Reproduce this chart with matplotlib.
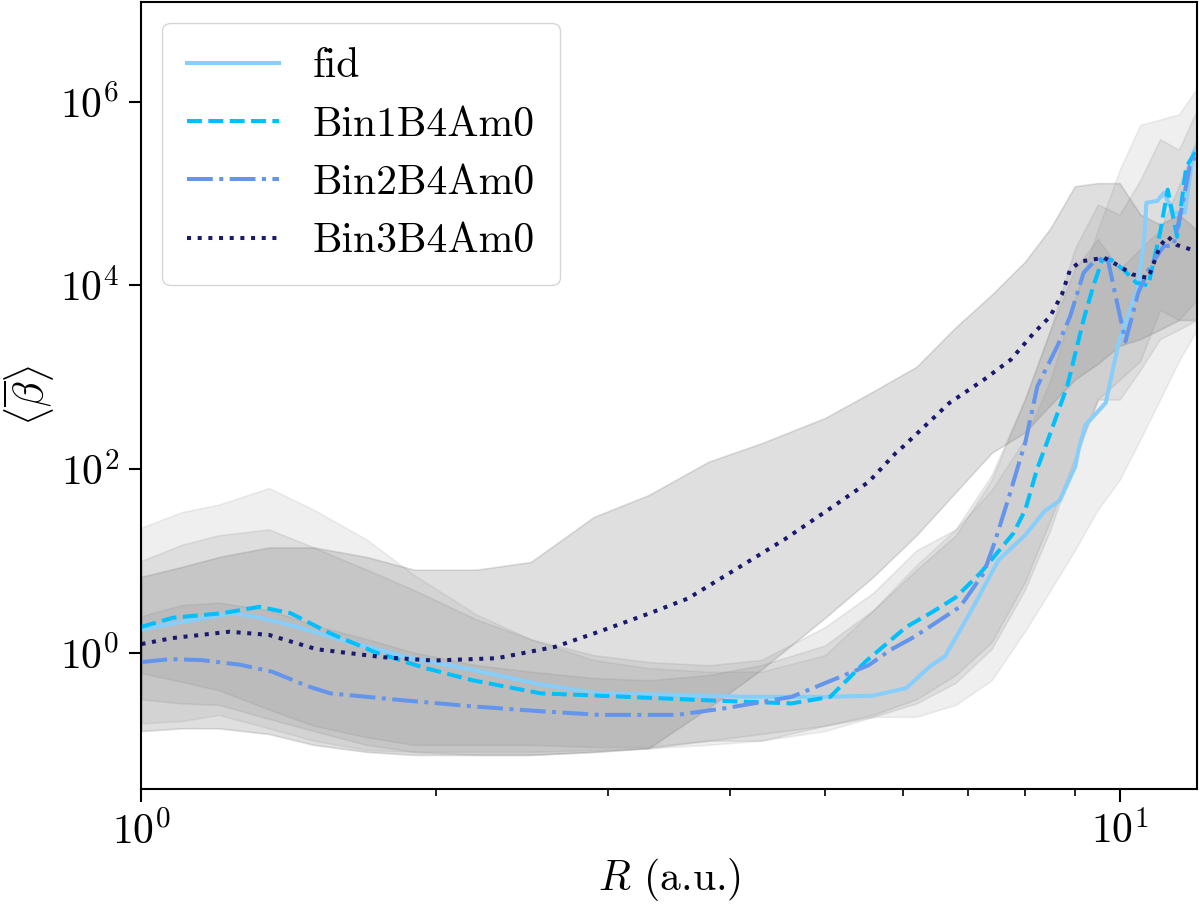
import numpy as np
import matplotlib
matplotlib.use("Agg")
import matplotlib.pyplot as plt
from matplotlib.ticker import FixedLocator, FuncFormatter, NullLocator

plt.rcParams['mathtext.fontset'] = 'cm'
plt.rcParams['font.family'] = ['cmr10', 'DejaVu Serif']
plt.rcParams['axes.unicode_minus'] = False

# ---------------- data ----------------
# mean curves
fid_R = [1.00, 1.08, 1.24, 1.31, 1.42, 1.60, 1.87, 2.18, 2.56, 2.94, 3.4, 4.2, 5.0, 5.6, 6.05, 6.4,
         6.63, 7.06, 7.52, 8.01, 8.38, 8.69, 9.01, 9.08, 9.23, 9.68, 9.86, 10.0, 10.43, 10.6,
         10.65, 10.93, 11.1, 11.35, 11.66, 11.9, 12.0]
fid_beta = [1.78, 2.09, 2.69, 2.45, 2.0, 1.38, 0.89, 0.65, 0.45, 0.36, 0.35, 0.33, 0.33, 0.34, 0.41, 0.71,
            0.91, 2.92, 10.2, 19.1, 34.7, 45.7, 107, 162, 302, 525, 1318, 2570, 8910, 31600,
            79400, 83200, 102000, 61700, 61700, 282000, 316000]

bin1_R = [1.0, 1.077, 1.21, 1.32, 1.42, 1.56, 1.73, 1.94, 2.18, 2.56, 2.94, 3.86, 4.62, 5.06, 5.5,
          6.05, 6.41, 6.8, 7.21, 7.79, 8.01, 8.23, 8.43, 8.84, 9.19, 9.4, 9.6, 9.8, 10.1, 10.4,
          10.7, 11.0, 11.2, 11.45, 11.7, 11.95]
bin1_beta = [1.91, 2.4, 2.69, 3.16, 2.69, 1.62, 1.02, 0.69, 0.50, 0.36, 0.34, 0.30, 0.28, 0.33, 0.8,
             1.9, 2.7, 4.0, 7.4, 20, 36, 98, 195, 794, 4270, 9770, 19000, 19000, 14800, 10700,
             10000, 37200, 110000, 33900, 195000, 282000]

bin2_R = [1.0, 1.07, 1.15, 1.26, 1.36, 1.48, 1.56, 1.87, 2.18, 2.56, 2.94, 3.53, 3.97, 4.62, 5.54,
          5.83, 6.17, 6.87, 7.26, 7.45, 7.73, 7.93, 8.01, 8.24, 8.64, 8.9, 9.19, 9.4, 9.71, 9.86,
          10.14, 10.45, 10.75, 11.1, 11.35, 11.55, 11.8, 11.95]
bin2_beta = [0.79, 0.85, 0.83, 0.74, 0.62, 0.43, 0.36, 0.30, 0.26, 0.23, 0.21, 0.21, 0.25, 0.33, 0.73,
             1.07, 1.49, 3.16, 7.3, 15.7, 55, 138, 195, 794, 2190, 4570, 13800, 17800, 20900, 9770,
             2450, 8320, 16200, 26900, 26900, 61700, 200000, 251000]

bin3_R = [1.0, 1.075, 1.23, 1.35, 1.51, 1.77, 1.99, 2.31, 2.65, 2.94, 3.31, 3.62, 4.04, 4.54, 5.06,
          5.54, 5.9, 6.01, 6.7, 7.26, 7.74, 8.17, 8.49, 8.73, 8.9, 9.12, 9.64, 10.0, 10.3, 10.7,
          11.0, 11.2, 11.45, 12.0]
bin3_beta = [1.24, 1.44, 1.69, 1.56, 1.09, 0.89, 0.82, 0.87, 1.16, 1.70, 2.69, 3.89, 7.94, 17.0, 37.2,
             72.4, 148, 176, 525, 933, 1550, 3020, 4570, 7940, 14800, 18200, 20000, 16200, 13200, 12000,
             26900, 33900, 27500, 23400]

# spread (shaded) envelopes on a common radius grid
band_R = [1.0, 1.1, 1.2, 1.35, 1.5, 1.7, 1.9, 2.2, 2.5, 2.9, 3.3, 3.8, 4.3, 5.0, 5.6, 6.2, 6.8,
          7.4, 8.0, 8.5, 9.0, 9.5, 10.0, 10.5, 11.0, 11.5, 12.0]
fid_lo = [0.17, 0.18, 0.21, 0.15, 0.11, 0.087, 0.083, 0.083, 0.083, 0.087, 0.091, 0.099, 0.11, 0.14,
          0.20, 0.20, 0.27, 0.50, 1.7, 4.8, 13, 36, 76, 210, 570, 1500, 3300]
fid_hi = [23, 34, 41, 62, 36, 17, 7.0, 2.6, 1.4, 0.83, 0.68, 0.62, 0.62, 0.94, 2.9, 9.0, 22, 59,
          210, 940, 7000, 40000, 180000, 560000, 640000, 730000, 1400000]
bin1_lo = [0.31, 0.28, 0.27, 0.19, 0.14, 0.099, 0.083, 0.077, 0.077, 0.083, 0.091, 0.11, 0.13, 0.16,
           0.21, 0.31, 0.57, 1.3, 5.8, 28, 130, 570, 940, 1500, 5400, 4200, 7000]
bin1_hi = [10, 15, 19, 22, 14, 8.0, 4.8, 2.3, 1.4, 0.94, 0.79, 0.73, 0.83, 1.9, 4.5, 13, 22, 86,
           570, 3300, 25000, 76000, 59000, 140000, 390000, 300000, 820000]
bin2_lo = [0.60, 0.48, 0.39, 0.24, 0.16, 0.12, 0.099, 0.099, 0.099, 0.094, 0.094, 0.11, 0.11, 0.16,
           0.20, 0.28, 0.47, 1.1, 4.8, 22, 130, 570, 570, 1200, 2600, 3300, 4200]
bin2_hi = [2.5, 3.3, 3.5, 2.9, 2.0, 1.4, 1.0, 0.73, 0.62, 0.53, 0.50, 0.57, 0.73, 1.2, 2.9, 8.0, 19,
           76, 570, 3300, 15000, 32000, 15000, 25000, 40000, 120000, 400000]
bin3_lo = [0.14, 0.15, 0.15, 0.13, 0.099, 0.083, 0.077, 0.077, 0.077, 0.083, 0.091, 0.25, 0.65, 2.4,
           6.7, 19, 56, 150, 250, 500, 940, 1400, 2200, 2600, 3300, 4200, 4200]
bin3_hi = [6.7, 8.6, 11, 14, 14, 11, 8.0, 8.0, 9.7, 30, 52, 120, 190, 360, 700, 1300, 3500, 7900,
           18000, 42000, 120000, 130000, 130000, 59000, 46000, 59000, 40000]

labels = ['fid', 'Bin1B4Am0', 'Bin2B4Am0', 'Bin3B4Am0']
colors = ['#87CEFA', '#00BFFF', '#6495ED', '#191970']
styles = ['-', '--', '-.', ':']

# ---------------- plot ----------------
fig = plt.figure(figsize=(12, 9.06), dpi=100)
ax = fig.add_axes([0.1179, 0.1291, 0.8796, 0.8687])

bands = [(fid_lo, fid_hi, 0.12), (bin1_lo, bin1_hi, 0.15),
         (bin2_lo, bin2_hi, 0.15), (bin3_lo, bin3_hi, 0.25)]
for lo, hi, a in bands:
    ax.fill_between(band_R, lo, hi, color='grey', alpha=a, linewidth=1.2)

curves = [(fid_R, fid_beta), (bin1_R, bin1_beta), (bin2_R, bin2_beta), (bin3_R, bin3_beta)]
for (r, b), lab, c, ls in zip(curves, labels, colors, styles):
    ax.plot(r, b, ls, color=c, lw=2.9, label=lab)

ax.set_xscale('log')
ax.set_yscale('log')
ax.set_xlim(1, 12.0)
ax.set_ylim(0.0327, 1.22e7)

fmt = FuncFormatter(lambda v, p: r'$10^{%d}$' % int(round(np.log10(v))))
ax.xaxis.set_major_locator(FixedLocator([1, 10]))
ax.xaxis.set_minor_locator(FixedLocator([2, 3, 4, 5, 6, 7, 8, 9]))
ax.xaxis.set_major_formatter(fmt)
ax.xaxis.set_minor_formatter(FuncFormatter(lambda v, p: ''))
ax.yaxis.set_major_locator(FixedLocator([1, 1e2, 1e4, 1e6]))
ax.yaxis.set_minor_locator(NullLocator())
ax.yaxis.set_major_formatter(fmt)

ax.tick_params(which='major', length=9, width=1.5, labelsize=30, pad=7)
ax.tick_params(which='minor', length=5, width=1.2)
for s in ax.spines.values():
    s.set_linewidth(1.5)

ax.set_xlabel(r'$R$ (a.u.)', fontsize=30, labelpad=3)
ax.set_ylabel(r'$\langle\overline{\beta}\rangle$', fontsize=30, labelpad=2)

ax.legend(loc='upper left', fontsize=30, handlelength=2.2, labelspacing=0.5,
          borderpad=0.6, framealpha=0.8)

fig.savefig('out.png', dpi=100)
